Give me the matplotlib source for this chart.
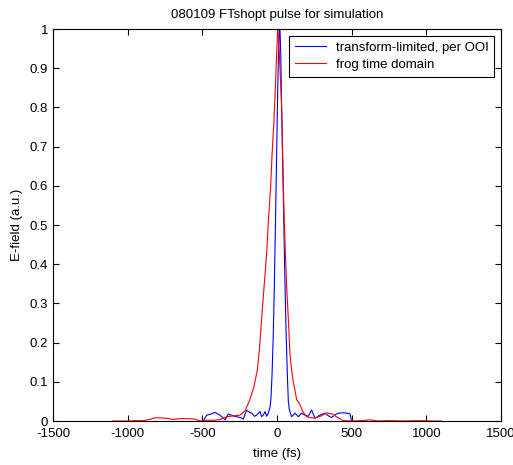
import matplotlib
matplotlib.use('Agg')
import matplotlib.pyplot as plt

plt.rcParams['font.family'] = ['Liberation Sans', 'DejaVu Sans']
plt.rcParams['font.size'] = 9.5

# transform-limited pulse (per OOI)
BLUE_T = [-494, -471, -440, -415, -382, -348, -326, -293, -248, -226, -203,
          -185, -169, -150, -136, -114, -103, -92, -80, -69, -58, -47, -40,
          -33, -25, -18, -10, -2, 5, 11, 16, 20, 25, 31, 38, 45, 52, 60, 69,
          76, 83, 98, 121, 143, 165, 187, 210, 232, 254, 288, 321, 345, 366,
          390, 411, 444, 470, 489, 500]
BLUE_E = [0.0, 0.015, 0.018, 0.022, 0.015, 0.003, 0.018, 0.013, 0.009, 0.005,
          0.028, 0.022, 0.020, 0.012, 0.015, 0.024, 0.011, 0.015, 0.024, 0.012,
          0.020, 0.035, 0.06, 0.12, 0.22, 0.34, 0.51, 0.69, 0.85, 0.95, 1.0,
          1.0, 0.94, 0.80, 0.66, 0.52, 0.38, 0.24, 0.12, 0.05, 0.028, 0.011,
          0.020, 0.011, 0.020, 0.015, 0.012, 0.028, 0.007, 0.015, 0.020, 0.013,
          0.009, 0.016, 0.020, 0.021, 0.020, 0.018, 0.0]

# frog time domain
RED_T = [-1100, -1000, -950, -900, -850, -820, -780, -740, -700, -650, -600,
         -550, -515, -470, -420, -380, -337, -290, -248, -214, -181, -154,
         -132, -118, -103, -87, -69, -58, -42, -33, -20, -11, -2, 5, 12, 20,
         31, 38, 47, 56, 65, 76, 87, 98, 109, 120, 132, 150, 176, 199, 230,
         254, 290, 333, 370, 410, 444, 500, 560, 623, 680, 750, 850, 950,
         1050, 1100]
RED_E = [0.0, 0.0, 0.001, 0.001, 0.004, 0.008, 0.008, 0.007, 0.004, 0.006,
         0.006, 0.005, 0.0, 0.002, 0.002, 0.004, 0.011, 0.013, 0.015, 0.026,
         0.055, 0.088, 0.13, 0.18, 0.26, 0.34, 0.43, 0.51, 0.60, 0.68, 0.77,
         0.85, 0.94, 1.0, 0.97, 0.90, 0.80, 0.68, 0.53, 0.43, 0.34, 0.26, 0.17,
         0.13, 0.10, 0.079, 0.054, 0.045, 0.022, 0.011, 0.008, 0.008, 0.012,
         0.021, 0.018, 0.008, 0.001, 0.0, 0.001, 0.003, 0.0, 0.001, 0.0,
         0.001, 0.0, 0.0]

X_TICKS = [-1500, -1000, -500, 0, 500, 1000, 1500]
Y_TICKS = [0, 0.1, 0.2, 0.3, 0.4, 0.5, 0.6, 0.7, 0.8, 0.9, 1]

fig = plt.figure(figsize=(5.13, 4.65), dpi=100)
ax = fig.add_axes([0.1033, 0.0946, 0.8733, 0.843])
ax.plot(BLUE_T, BLUE_E, color='blue', lw=0.8, label='transform-limited, per OOI')
ax.plot(RED_T, RED_E, color='red', lw=0.8, label='frog time domain')
ax.set_xlim(-1500, 1500)
ax.set_ylim(0, 1)
ax.set_xticks(X_TICKS)
ax.set_xticklabels([str(v) for v in X_TICKS])
ax.set_yticks(Y_TICKS)
ax.set_yticklabels(['0', '0.1', '0.2', '0.3', '0.4', '0.5', '0.6', '0.7',
                    '0.8', '0.9', '1'])
ax.tick_params(direction='in', top=True, right=True, length=4, width=0.8,
               labelsize=9.5)
ax.tick_params(axis='x', pad=5)
for sp in ax.spines.values():
    sp.set_linewidth(0.8)
ax.set_xlabel('time (fs)', labelpad=6)
ax.set_ylabel('E-field (a.u.)', labelpad=5)
ax.set_title('080109 FTshopt pulse for simulation', fontsize=9.5, pad=8)
leg = ax.legend(loc='upper right', fontsize=9.5, fancybox=False,
                edgecolor='black', framealpha=1, handlelength=2.4,
                handletextpad=0.7, borderaxespad=0.5, labelspacing=0.35,
                borderpad=0.45)
leg.get_frame().set_linewidth(0.8)
fig.savefig('out.png', dpi=100)
